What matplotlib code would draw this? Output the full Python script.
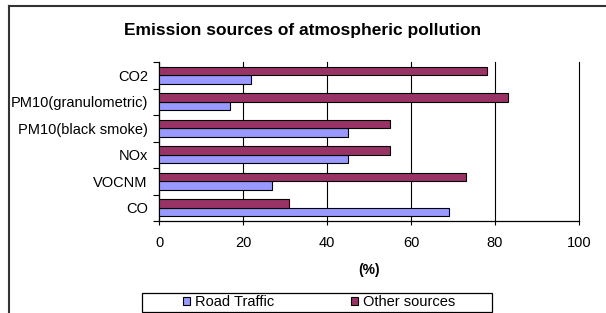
import matplotlib
matplotlib.use("Agg")
import matplotlib.pyplot as plt
from matplotlib.lines import Line2D
from matplotlib.patches import Rectangle
import numpy as np

categories = ["CO", "VOCNM", "NOx", "PM10(black smoke)", "PM10(granulometric)", "CO2"]
road_traffic = [69, 27, 45, 45, 17, 22]
other_sources = [31, 73, 55, 55, 83, 78]
x_ticks = [0, 20, 40, 60, 80, 100]

plt.rcParams['font.family'] = ['Liberation Sans', 'DejaVu Sans']

W, H = 606, 313
fig = plt.figure(figsize=(W/100, H/100), dpi=100)
ax = fig.add_axes([159/W, 1-221/H, 420/W, 159/H])

y = np.arange(len(categories))
h = 0.32
ax.barh(y - h/2, road_traffic, height=h, color="#9999FF", edgecolor="black", linewidth=0.8, label="Road Traffic", zorder=3)
ax.barh(y + h/2, other_sources, height=h, color="#993366", edgecolor="black", linewidth=0.8, label="Other sources", zorder=3)

ax.set_xlim(0, 100)
ax.set_ylim(-0.5, len(categories) - 0.5)
ax.set_xticks(x_ticks)
ax.set_xticklabels([str(v) for v in x_ticks], fontsize=10.5)
ax.set_yticks(np.arange(len(categories) + 1) - 0.5)
ax.set_yticklabels([])
ax.set_yticks(y, minor=True)
ax.set_yticklabels(categories, minor=True, fontsize=10.5)
ax.tick_params(axis='y', which='minor', length=0, pad=8)
ax.tick_params(axis='y', which='major', length=4, width=0.8, direction='out')
ax.tick_params(axis='x', length=3, width=0.8, direction='out', pad=8)
ax.xaxis.grid(True, color="black", linewidth=0.8, zorder=0)
for gl in ax.get_xgridlines():
    gl.set_clip_on(False)
ax.set_axisbelow(True)
for s in ["top", "right"]:
    ax.spines[s].set_visible(False)
ax.spines["left"].set_linewidth(0.9)
ax.spines["bottom"].set_linewidth(0.9)

ax.set_xlabel("(%)", fontsize=10, fontweight="bold", labelpad=9)
fig.text(0.5, 1-30/H, "Emission sources of atmospheric pollution", ha="center", va="center",
         fontsize=12.5, fontweight="bold")

# legend: frame drawn separately, entries centered inside it
fig.add_artist(Rectangle((142/W, 1-312/H), 350/W, 19/H, transform=fig.transFigure,
                         facecolor="white", edgecolor="black", linewidth=0.9, zorder=4))
leg = fig.legend(loc="center", bbox_to_anchor=(319/W, 1-302/H),
                 ncol=2, fontsize=10.5, frameon=False,
                 handlelength=0.5, handleheight=0.5, handletextpad=0.3, columnspacing=5.3,
                 borderpad=0, borderaxespad=0)
leg.set_zorder(5)

fig.add_artist(Line2D([9/W, 1], [1-6/H, 1-6/H], color="#333333", linewidth=1.5, transform=fig.transFigure))
fig.add_artist(Line2D([9/W, 9/W], [0, 1-6/H], color="#333333", linewidth=1.5, transform=fig.transFigure))

fig.savefig("out.png", dpi=100)
